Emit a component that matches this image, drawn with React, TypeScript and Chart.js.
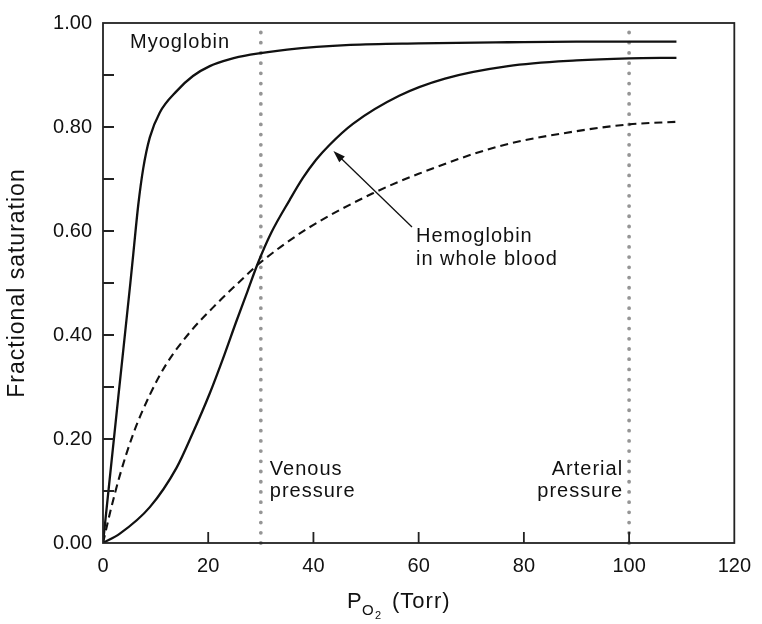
import React, { useEffect, useRef } from "react";
import { Chart, registerables } from "chart.js";

Chart.register(...registerables);

// ---- Data (P_O2 in Torr, fractional saturation) ----
const myoglobinP = [0, 2.9, 5.2, 5.75, 6.7, 7.64, 8.9, 10.8, 14, 17.1, 20.3, 24, 28, 35, 47, 60, 77, 90, 109];
const myoglobinS = [0, 0.28, 0.5, 0.555, 0.65, 0.72, 0.78, 0.828, 0.869, 0.898, 0.917, 0.93, 0.939, 0.949, 0.958, 0.961, 0.963, 0.964, 0.964];

const hemoglobinP = [0, 3.2, 8.9, 14, 17, 20.3, 23, 25.3, 27.5, 29.4, 32, 35.5, 38, 40.5, 43, 47.5, 56.3, 65, 77, 90, 100, 109];
const hemoglobinS = [0, 0.018, 0.069, 0.145, 0.21, 0.288, 0.36, 0.425, 0.485, 0.537, 0.597, 0.66, 0.702, 0.737, 0.765, 0.806, 0.86, 0.893, 0.917, 0.928, 0.932, 0.933];

const dashedP = [0, 1.5, 3.2, 5.75, 8.9, 12.1, 16.5, 21.6, 26, 29.4, 38.6, 51.2, 60, 75.3, 90, 100, 109];
const dashedS = [0, 0.065, 0.13, 0.21, 0.285, 0.345, 0.405, 0.46, 0.503, 0.535, 0.603, 0.672, 0.71, 0.763, 0.792, 0.805, 0.81];

const xTickValues = [0, 20, 40, 60, 80, 100, 120];
const yTickValues = [0, 0.2, 0.4, 0.6, 0.8, 1.0];
const yMinorTickValues = [0.1, 0.3, 0.5, 0.7, 0.9];
const venousP = 30;
const arterialP = 100;
const arrowTip = { x: 43.8, y: 0.754 };

const FONT = "'Liberation Sans', Arial, Helvetica, sans-serif";

const toXY = (xs: number[], ys: number[]) => xs.map((x, i) => ({ x, y: ys[i] }));

const decorPlugin = {
  id: "decor",
  beforeDatasetsDraw(chart: any) {
    const { ctx, chartArea, scales } = chart;
    const { top, bottom } = chartArea;
    ctx.save();
    ctx.strokeStyle = "#959595";
    ctx.lineWidth = 3.8;
    ctx.lineCap = "round";
    ctx.setLineDash([0.01, 10.2]);
    for (const p of [venousP, arterialP]) {
      const px = scales.x.getPixelForValue(p);
      ctx.beginPath();
      ctx.moveTo(px, bottom);
      ctx.lineTo(px, top + 4);
      ctx.stroke();
    }
    ctx.restore();
  },
  afterDraw(chart: any) {
    const { ctx, chartArea, scales } = chart;
    const { left, right, top, bottom } = chartArea;
    const xs = scales.x;
    const ys = scales.y;
    ctx.save();
    // frame
    ctx.strokeStyle = "#222";
    ctx.lineWidth = 1.8;
    ctx.strokeRect(left, top, right - left, bottom - top);
    // inward ticks
    ctx.beginPath();
    for (const v of [...yTickValues, ...yMinorTickValues]) {
      if (v <= 0 || v >= 1) continue;
      const py = ys.getPixelForValue(v);
      ctx.moveTo(left, py);
      ctx.lineTo(left + 11, py);
    }
    for (const v of xTickValues) {
      if (v <= 0 || v >= 120) continue;
      const px = xs.getPixelForValue(v);
      ctx.moveTo(px, bottom);
      ctx.lineTo(px, bottom - 11);
    }
    ctx.stroke();

    // text annotations
    ctx.fillStyle = "#111";
    (ctx as any).letterSpacing = "1px";
    ctx.textBaseline = "alphabetic";
    ctx.font = `20px ${FONT}`;
    ctx.textAlign = "left";
    ctx.fillText("Myoglobin", 130, 48);
    ctx.fillText("Hemoglobin", 416, 242);
    ctx.fillText("in whole blood", 416, 265);
    const vx = xs.getPixelForValue(venousP);
    ctx.fillText("Venous", vx + 9, 475);
    ctx.fillText("pressure", vx + 9, 497);
    const ax = xs.getPixelForValue(arterialP);
    ctx.textAlign = "right";
    ctx.fillText("Arterial", ax - 6, 475);
    ctx.fillText("pressure", ax - 6, 497);

    // arrow
    const tx = xs.getPixelForValue(arrowTip.x);
    const ty = ys.getPixelForValue(arrowTip.y);
    const sx = 412;
    const sy = 227;
    const ang = Math.atan2(ty - sy, tx - sx);
    ctx.strokeStyle = "#111";
    ctx.lineWidth = 1.3;
    ctx.beginPath();
    ctx.moveTo(sx, sy);
    ctx.lineTo(tx - 8 * Math.cos(ang), ty - 8 * Math.sin(ang));
    ctx.stroke();
    ctx.beginPath();
    ctx.moveTo(tx, ty);
    ctx.lineTo(tx - 12 * Math.cos(ang) + 4 * Math.sin(ang), ty - 12 * Math.sin(ang) - 4 * Math.cos(ang));
    ctx.lineTo(tx - 12 * Math.cos(ang) - 4 * Math.sin(ang), ty - 12 * Math.sin(ang) + 4 * Math.cos(ang));
    ctx.closePath();
    ctx.fill();

    // axis titles
    ctx.textAlign = "left";
    ctx.font = `22px ${FONT}`;
    ctx.fillText("P", 347, 608);
    ctx.font = `15px ${FONT}`;
    (ctx as any).letterSpacing = "0px";
    ctx.fillText("O", 362, 615);
    ctx.font = `11px ${FONT}`;
    ctx.fillText("2", 375, 619);
    (ctx as any).letterSpacing = "1px";
    ctx.font = `22px ${FONT}`;
    ctx.fillText("(Torr)", 392, 608);

    ctx.save();
    ctx.translate(24, (top + bottom) / 2);
    ctx.rotate(-Math.PI / 2);
    ctx.textAlign = "center";
    ctx.font = `23px ${FONT}`;
    ctx.fillText("Fractional saturation", 0, 0);
    ctx.restore();

    ctx.restore();
  },
};

export default function App() {
  const ref = useRef<HTMLCanvasElement | null>(null);
  useEffect(() => {
    if (!ref.current) return;
    const chart = new Chart(ref.current, {
      type: "scatter",
      data: {
        datasets: [
          {
            label: "Myoglobin",
            data: toXY(myoglobinP, myoglobinS),
            showLine: true,
            borderColor: "#111",
            borderWidth: 2.3,
            pointRadius: 0,
            cubicInterpolationMode: "monotone",
          },
          {
            label: "Hemoglobin in whole blood",
            data: toXY(hemoglobinP, hemoglobinS),
            showLine: true,
            borderColor: "#111",
            borderWidth: 2.3,
            pointRadius: 0,
            cubicInterpolationMode: "monotone",
          },
          {
            label: "Dashed",
            data: toXY(dashedP, dashedS),
            showLine: true,
            borderColor: "#111",
            borderWidth: 2.1,
            borderDash: [8, 5],
            pointRadius: 0,
            cubicInterpolationMode: "monotone",
          },
        ],
      },
      options: {
        responsive: false,
        animation: false,
        layout: { padding: { left: 0, top: 18, right: 26, bottom: 0 } },
        plugins: { legend: { display: false }, tooltip: { enabled: false } },
        scales: {
          x: {
            type: "linear",
            min: 0,
            max: 120,
            grid: { display: false, drawTicks: false },
            border: { display: false },
            ticks: { font: { size: 20, family: FONT }, color: "#111", padding: 11, maxRotation: 0 },
            afterBuildTicks: (s: any) => {
              s.ticks = xTickValues.map((v) => ({ value: v }));
            },
            afterFit: (s: any) => {
              s.height = 81;
            },
          },
          y: {
            type: "linear",
            min: 0,
            max: 1,
            grid: { display: false, drawTicks: false },
            border: { display: false },
            ticks: {
              font: { size: 20, family: FONT },
              color: "#111",
              padding: 11,
              callback: (v: any) => Number(v).toFixed(2),
            },
            afterBuildTicks: (s: any) => {
              s.ticks = yTickValues.map((v) => ({ value: v }));
            },
            afterFit: (s: any) => {
              s.width = 103;
            },
          },
        },
      },
      plugins: [decorPlugin],
    } as any);
    return () => chart.destroy();
  }, []);
  return (
    <div style={{ position: "fixed", left: 0, top: 0, width: 762, height: 624, background: "#fff" }}>
      <canvas ref={ref} width={762} height={624} style={{ display: "block" }} />
    </div>
  );
}
